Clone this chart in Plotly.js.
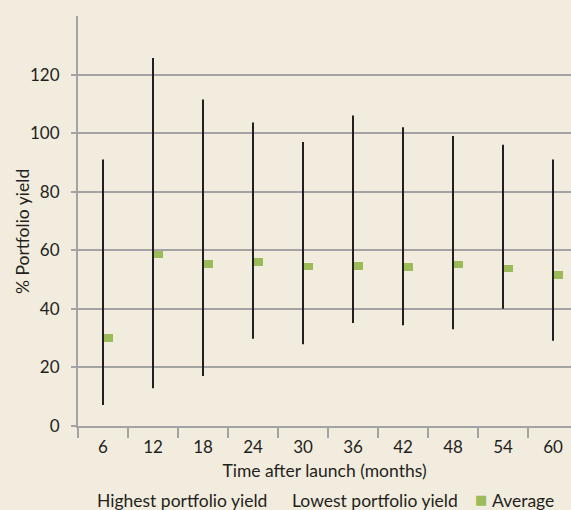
<!DOCTYPE html>
<html>
<head>
<meta charset="utf-8">
<script src="https://cdn.plot.ly/plotly-3.0.1.min.js"></script>
<style>
html,body{margin:0;padding:0;background:#f2ecde;overflow:hidden;}
#chart{width:571px;height:510px;}
</style>
</head>
<body>
<div id="chart"></div>
<script>
const months = ['6','12','18','24','30','36','42','48','54','60'];
const highest = [91, 125.7, 111.5, 103.6, 97, 106, 102, 99, 96, 91];
const lowest = [7.2, 12.9, 17.1, 29.8, 27.9, 35.2, 34.4, 33, 40, 29.1];
const average = [30, 58.6, 55.3, 55.9, 54.4, 54.6, 54.2, 55.2, 53.8, 51.5];
const yTicks = [0, 20, 40, 60, 80, 100, 120];
const legendNames = ['Highest portfolio yield', 'Lowest portfolio yield', 'Average'];

const FONT = 'Lato, "Open Sans", sans-serif';
const TXT = '#231f20';
const GRID = '#a3a3a3';
const GREEN = '#9bbb59';
const FS = 17;

const W = 571, H = 510;
const M = {l: 78, r: 0, t: 16, b: 84};
const plotW = W - M.l - M.r;
const plotH = H - M.t - M.b;
const catPx = 50;
const xMax = -0.5 + plotW / catPx;
const px2x = p => (p - M.l) / plotW;
const px2y = p => (H - M.b - p) / plotH;

const markH = 2.6;
const traces = [
  {
    type: 'scatter', mode: 'markers', name: legendNames[0],
    x: months, y: highest, showlegend: false, hoverinfo: 'skip',
    marker: {opacity: 0, size: 2},
    error_y: {type: 'data', symmetric: false,
      array: highest.map(() => 0),
      arrayminus: highest.map((h, i) => h - lowest[i]),
      width: 0, thickness: 2, color: TXT}
  },
  {
    type: 'scatter', mode: 'markers', name: legendNames[1],
    x: months, y: lowest, showlegend: false, hoverinfo: 'skip',
    marker: {opacity: 0, size: 2}
  },
  {
    type: 'bar', name: legendNames[2], x: months,
    base: average.map(v => v - markH / 2),
    y: average.map(() => markH),
    width: 0.21, offset: -0.015,
    marker: {color: GREEN, line: {width: 0}},
    showlegend: false
  }
];

const legY = px2y(500);
const layout = {
  width: W, height: H,
  margin: M,
  paper_bgcolor: '#f2ecde', plot_bgcolor: '#f2ecde',
  font: {family: FONT, size: FS, color: TXT},
  showlegend: false,
  xaxis: {
    type: 'category', categoryorder: 'array', categoryarray: months,
    range: [-0.5, xMax], tickson: 'boundaries',
    ticks: 'outside', ticklen: 10, tickcolor: GRID, tickwidth: 2,
    ticklabelstandoff: 5,
    showline: true, linecolor: GRID, linewidth: 2,
    showgrid: false, zeroline: false,
    tickfont: {family: FONT, size: FS, color: TXT},
    title: {text: 'Time after launch (months)', standoff: 8,
      font: {family: FONT, size: 17.5, color: TXT}},
    fixedrange: true
  },
  yaxis: {
    range: [0, 140], tickvals: yTicks, ticktext: yTicks.map(String),
    ticks: 'outside', ticklen: 5, tickcolor: GRID, tickwidth: 2,
    ticklabelstandoff: 8,
    showline: true, linecolor: GRID, linewidth: 2,
    showgrid: true, gridcolor: GRID, gridwidth: 2, zeroline: false,
    tickfont: {family: FONT, size: FS, color: TXT},
    fixedrange: true
  },
  bargap: 0,
  annotations: [
    {text: '% Portfolio yield', textangle: -90, xref: 'paper', yref: 'paper',
      x: px2x(22), y: px2y(232),
      xanchor: 'center', yanchor: 'middle', showarrow: false,
      font: {family: FONT, size: 17.5, color: TXT}},
    {text: legendNames[0], xref: 'paper', yref: 'paper',
      x: px2x(95), y: legY, xanchor: 'left', yanchor: 'middle', showarrow: false,
      font: {family: FONT, size: 17.5, color: TXT}},
    {text: legendNames[1], xref: 'paper', yref: 'paper',
      x: px2x(290), y: legY, xanchor: 'left', yanchor: 'middle', showarrow: false,
      font: {family: FONT, size: 17.5, color: TXT}},
    {text: '■', xref: 'paper', yref: 'paper',
      x: px2x(480.5), y: px2y(499.5), xanchor: 'center', yanchor: 'middle', showarrow: false,
      font: {family: 'DejaVu Sans', size: 13, color: GREEN}},
    {text: legendNames[2], xref: 'paper', yref: 'paper',
      x: px2x(490), y: legY, xanchor: 'left', yanchor: 'middle', showarrow: false,
      font: {family: FONT, size: 17.5, color: TXT}}
  ]
};

Plotly.newPlot('chart', traces, layout, {displayModeBar: false, staticPlot: true});
</script>
</body>
</html>
